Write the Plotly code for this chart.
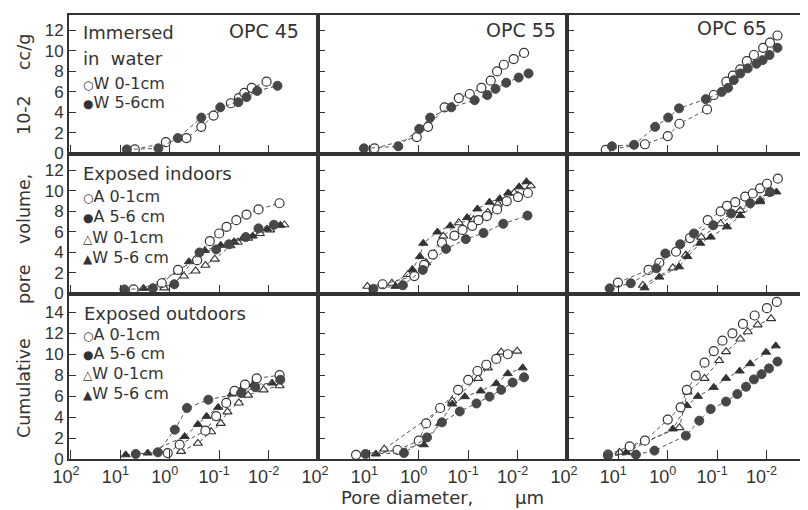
import plotly.graph_objects as go

# ---------------- data (pore diameter in um, cumulative pore volume in 10^-2 cc/g) -------------
# Row 1: immersed in water
opc45_water_w01_d = [5.1, 1.2, 0.46, 0.23, 0.13, 0.058, 0.040, 0.031, 0.022, 0.011]
opc45_water_w01_v = [0.4, 1.1, 1.5, 2.6, 3.7, 4.9, 5.4, 5.9, 6.4, 7.0]
opc45_water_w56_d = [7.4, 1.7, 0.69, 0.23, 0.095, 0.041, 0.028, 0.017, 0.0066]
opc45_water_w56_v = [0.4, 0.5, 1.5, 3.5, 4.5, 5.0, 5.5, 6.1, 6.6]

opc55_water_w01_d = [7.9, 1.1, 0.65, 0.30, 0.155, 0.093, 0.054, 0.035, 0.026, 0.019, 0.012, 0.0074]
opc55_water_w01_v = [0.5, 1.6, 2.6, 4.5, 5.4, 5.8, 6.4, 7.1, 8.0, 8.65, 9.2, 9.8]
opc55_water_w56_d = [12.9, 2.6, 0.98, 0.59, 0.22, 0.074, 0.041, 0.028, 0.017, 0.0095, 0.006]
opc55_water_w56_v = [0.5, 0.7, 2.4, 3.5, 4.5, 5.2, 5.7, 6.3, 6.9, 7.4, 7.8]

opc65_water_w01_d = [18, 2.9, 1.0, 0.58, 0.16, 0.117, 0.065, 0.048, 0.034, 0.025, 0.018, 0.0117, 0.0085, 0.006]
opc65_water_w01_v = [0.36, 0.9, 1.7, 2.9, 4.3, 5.7, 7.0, 7.6, 8.2, 9.0, 9.6, 10.3, 10.8, 11.5]
opc65_water_w56_d = [13.5, 4.8, 1.8, 0.98, 0.59, 0.17, 0.081, 0.06, 0.046, 0.034, 0.024, 0.016, 0.012, 0.0087, 0.006]
opc65_water_w56_v = [0.7, 0.85, 2.6, 3.5, 4.4, 5.3, 6.0, 6.4, 7.15, 7.8, 8.3, 8.75, 9.1, 9.6, 10.3]

# Row 2: exposed indoors
opc45_in_a01_d = [5.4, 1.45, 0.68, 0.28, 0.155, 0.1, 0.071, 0.045, 0.028, 0.016, 0.006]
opc45_in_a01_v = [0.4, 1.0, 2.3, 3.25, 5.1, 5.85, 6.5, 7.15, 7.7, 8.2, 8.8]
opc45_in_a56_d = [8.3, 2.2, 0.81, 0.25, 0.115, 0.063, 0.029, 0.016, 0.0078]
opc45_in_a56_v = [0.4, 0.5, 0.9, 4.0, 4.3, 4.8, 5.5, 6.35, 6.7]
opc45_in_w01_d = [1.3, 0.52, 0.30, 0.19, 0.123, 0.059, 0.042, 0.026, 0.015, 0.0093, 0.0048]
opc45_in_w01_v = [0.55, 1.7, 2.2, 2.75, 3.35, 4.65, 5.0, 5.4, 5.85, 6.2, 6.7]
opc45_in_w56_d = [3.4, 0.69, 0.41, 0.195, 0.093, 0.05, 0.033, 0.021, 0.0107, 0.0058]
opc45_in_w56_v = [0.5, 2.1, 3.1, 4.2, 4.7, 5.05, 5.4, 5.6, 6.3, 6.65]

opc55_in_a01_d = [5.4, 1.23, 0.78, 0.52, 0.34, 0.19, 0.13, 0.083, 0.062, 0.042, 0.026, 0.0166, 0.0098, 0.0062]
opc55_in_a01_v = [0.9, 1.7, 2.8, 3.8, 4.95, 5.65, 6.2, 6.6, 7.15, 7.55, 8.2, 9.0, 9.4, 9.8]
opc55_in_a56_d = [8.3, 2.1, 0.83, 0.28, 0.112, 0.049, 0.0195, 0.0063]
opc55_in_a56_v = [0.45, 0.8, 2.3, 4.35, 5.3, 5.9, 6.8, 7.6]
opc55_in_w01_d = [11, 3.5, 1.66, 0.71, 0.32, 0.155, 0.078, 0.04, 0.025, 0.0117, 0.0054]
opc55_in_w01_v = [0.7, 1.0, 1.85, 3.0, 5.6, 6.9, 7.2, 7.9, 8.7, 9.8, 10.5]
opc55_in_w56_d = [2.95, 1.35, 0.95, 0.81, 0.42, 0.23, 0.105, 0.065, 0.037, 0.023, 0.0155, 0.0093, 0.0066]
opc55_in_w56_v = [0.7, 2.35, 3.6, 4.9, 6.0, 6.6, 7.4, 8.25, 8.9, 9.25, 9.8, 10.4, 10.9]

opc65_in_a01_d = [10.2, 2.45, 1.48, 0.68, 0.355, 0.155, 0.085, 0.063, 0.043, 0.027, 0.019, 0.0135, 0.0098, 0.0059]
opc65_in_a01_v = [1.07, 2.3, 3.0, 4.07, 5.4, 7.15, 8.0, 8.55, 8.9, 9.45, 9.75, 10.25, 10.7, 11.2]
opc65_in_a56_d = [15, 5.6, 1.7, 1.12, 0.56, 0.295, 0.12, 0.052, 0.0214, 0.0085]
opc65_in_a56_v = [0.5, 1.0, 2.45, 3.9, 4.8, 5.85, 6.65, 7.8, 8.8, 9.9]
opc65_in_w01_d = [3.2, 0.79, 0.43, 0.21, 0.085, 0.034, 0.0135, 0.0089]
opc65_in_w01_v = [0.8, 2.5, 3.75, 5.5, 6.8, 8.1, 9.1, 9.75]
opc65_in_w56_d = [2.95, 1.48, 0.59, 0.4, 0.22, 0.135, 0.063, 0.034, 0.0135, 0.0063]
opc65_in_w56_v = [0.55, 1.6, 2.6, 3.6, 4.9, 5.5, 6.5, 7.6, 8.95, 9.9]

# Row 3: exposed outdoors
opc45_out_a01_d = [1.1, 0.63, 0.19, 0.115, 0.072, 0.049, 0.03, 0.0174, 0.006]
opc45_out_a01_v = [0.57, 1.37, 2.7, 4.1, 5.35, 6.5, 7.1, 7.7, 8.0]
opc45_out_a56_d = [4.9, 1.74, 0.79, 0.45, 0.166, 0.036, 0.0186, 0.0058]
opc45_out_a56_v = [0.48, 0.64, 2.8, 4.87, 5.66, 6.3, 6.85, 7.57]
opc45_out_w01_d = [0.59, 0.27, 0.145, 0.093, 0.068, 0.04, 0.026, 0.0126, 0.006]
opc45_out_w01_v = [0.73, 1.5, 2.6, 3.4, 4.5, 5.35, 6.1, 6.6, 7.0]
opc45_out_w56_d = [7.8, 2.8, 0.5, 0.27, 0.18, 0.105, 0.056, 0.035, 0.0204, 0.0085]
opc45_out_w56_v = [0.4, 0.57, 2.15, 3.3, 4.07, 4.93, 6.2, 6.7, 7.1, 7.25]

opc55_out_a01_d = [18.6, 2.7, 1.0, 0.71, 0.37, 0.16, 0.1, 0.065, 0.043, 0.027, 0.0158]
opc55_out_a01_v = [0.4, 0.86, 1.75, 3.4, 4.87, 6.6, 7.55, 8.4, 9.0, 9.55, 10.0]
opc55_out_a56_d = [12, 2.0, 0.68, 0.34, 0.148, 0.068, 0.037, 0.0214, 0.0126, 0.0074]
opc55_out_a56_v = [0.48, 0.57, 2.06, 3.5, 4.54, 5.3, 5.95, 6.6, 7.3, 7.8]
opc55_out_w01_d = [5.0, 0.21, 0.063, 0.04, 0.0214, 0.0102]
opc55_out_w01_v = [0.95, 5.55, 7.7, 8.7, 10.2, 10.3]
opc55_out_w56_d = [7.4, 0.79, 0.37, 0.21, 0.117, 0.056, 0.027, 0.0158, 0.0079]
opc55_out_w56_v = [0.48, 1.36, 3.4, 5.25, 5.95, 6.5, 7.2, 8.15, 8.7]

opc65_out_a01_d = [16.2, 5.9, 2.9, 1.0, 0.55, 0.41, 0.27, 0.18, 0.117, 0.078, 0.049, 0.03, 0.0174, 0.0098, 0.0062]
opc65_out_a01_v = [0.42, 1.2, 1.75, 3.76, 4.93, 6.6, 7.96, 9.2, 10.3, 11.3, 12.0, 12.9, 13.7, 14.4, 15.0]
opc65_out_a56_d = [16.2, 4.4, 1.86, 0.43, 0.23, 0.135, 0.066, 0.039, 0.026, 0.018, 0.0126, 0.0089, 0.006]
opc65_out_a56_v = [0.32, 0.42, 0.8, 2.23, 3.66, 4.77, 5.48, 6.2, 6.9, 7.6, 8.1, 8.65, 9.3]
opc65_out_w01_d = [9.5, 0.58, 0.4, 0.18, 0.091, 0.066, 0.034, 0.024, 0.0151, 0.0081]
opc65_out_w01_v = [0.64, 3.0, 6.4, 7.7, 9.4, 10.25, 11.45, 12.15, 12.8, 13.4]
opc65_out_w56_d = [6.9, 0.79, 0.41, 0.245, 0.117, 0.066, 0.035, 0.0214, 0.0102, 0.0065]
opc65_out_w56_v = [0.64, 2.87, 5.1, 5.98, 6.84, 7.7, 8.4, 9.1, 10.2, 10.8]

panel_titles = ["OPC 45", "OPC 55", "OPC 65"]
row_headers = [["Immersed", "in  water"], ["Exposed indoors"], ["Exposed outdoors"]]
legend_row1 = [("○", "W 0-1cm"), ("●", "W 5-6cm")]
legend_rows23 = [("○", "A 0-1cm"), ("●", "A 5-6 cm"), ("△", "W 0-1cm"), ("▲", "W 5-6 cm")]
x_tickvals = [100, 10, 1, 0.1, 0.01]
x_ticktext = ["10<sup>2</sup>", "10<sup>1</sup>", "10<sup>0</sup>", "10<sup>-1</sup>", "10<sup>-2</sup>"]
y_max = [13.5, 13.65, 15.8]
y_title_parts = ["Cumulative", "pore", "volume,", "10-2", "cc/g"]
x_title_parts = ["Pore diameter,", "μm"]

# ---------------- styles ----------------
OPEN_C = dict(symbol="circle", size=9, color="white", line=dict(color="#333", width=1.2))
FILL_C = dict(symbol="circle", size=9, color="#474747", line=dict(color="#474747", width=1))
OPEN_T = dict(symbol="triangle-up", size=8, color="white", line=dict(color="#333", width=1.1))
FILL_T = dict(symbol="triangle-up", size=8, color="#333", line=dict(color="#333", width=1))

panels = {
    (0, 0): [(opc45_water_w01_d, opc45_water_w01_v, OPEN_C), (opc45_water_w56_d, opc45_water_w56_v, FILL_C)],
    (0, 1): [(opc55_water_w01_d, opc55_water_w01_v, OPEN_C), (opc55_water_w56_d, opc55_water_w56_v, FILL_C)],
    (0, 2): [(opc65_water_w01_d, opc65_water_w01_v, OPEN_C), (opc65_water_w56_d, opc65_water_w56_v, FILL_C)],
    (1, 0): [(opc45_in_w01_d, opc45_in_w01_v, OPEN_T), (opc45_in_w56_d, opc45_in_w56_v, FILL_T),
             (opc45_in_a01_d, opc45_in_a01_v, OPEN_C), (opc45_in_a56_d, opc45_in_a56_v, FILL_C)],
    (1, 1): [(opc55_in_w01_d, opc55_in_w01_v, OPEN_T), (opc55_in_w56_d, opc55_in_w56_v, FILL_T),
             (opc55_in_a01_d, opc55_in_a01_v, OPEN_C), (opc55_in_a56_d, opc55_in_a56_v, FILL_C)],
    (1, 2): [(opc65_in_w01_d, opc65_in_w01_v, OPEN_T), (opc65_in_w56_d, opc65_in_w56_v, FILL_T),
             (opc65_in_a01_d, opc65_in_a01_v, OPEN_C), (opc65_in_a56_d, opc65_in_a56_v, FILL_C)],
    (2, 0): [(opc45_out_w01_d, opc45_out_w01_v, OPEN_T), (opc45_out_w56_d, opc45_out_w56_v, FILL_T),
             (opc45_out_a01_d, opc45_out_a01_v, OPEN_C), (opc45_out_a56_d, opc45_out_a56_v, FILL_C)],
    (2, 1): [(opc55_out_w01_d, opc55_out_w01_v, OPEN_T), (opc55_out_w56_d, opc55_out_w56_v, FILL_T),
             (opc55_out_a01_d, opc55_out_a01_v, OPEN_C), (opc55_out_a56_d, opc55_out_a56_v, FILL_C)],
    (2, 2): [(opc65_out_w01_d, opc65_out_w01_v, OPEN_T), (opc65_out_w56_d, opc65_out_w56_v, FILL_T),
             (opc65_out_a01_d, opc65_out_a01_v, OPEN_C), (opc65_out_a56_d, opc65_out_a56_v, FILL_C)],
}

# ---------------- geometry ----------------
# The page body has an 8px default margin, so the figure is made 8px smaller and
# all reference-pixel positions are shifted by OFF.
OFF = 8
W, H = 808 - OFF, 510 - OFF
col_px = [69, 318, 567, 808]          # reference pixel positions
row_px = [15, 153.5, 293.5, 459]
ML = col_px[0] - OFF
MT = row_px[0] - OFF
MR = 0
MB = H - (row_px[3] - OFF)
PW, PH = W - ML - MR, H - MT - MB
x_ranges = [[2.04, -3.0], [2.04, -3.0], [2.04, -2.84]]

def px2x(x):
    return (x - OFF - ML) / PW

def px2y(y):
    return (H - MB - (y - OFF)) / PH

FONT = "DejaVu Sans"
INK = "#333333"

fig = go.Figure()
layout = dict(width=W, height=H, margin=dict(l=ML, r=MR, t=MT, b=MB, pad=0),
              paper_bgcolor="white", plot_bgcolor="white", showlegend=False,
              font=dict(family=FONT, color=INK))

for r in range(3):
    for c in range(3):
        k = r * 3 + c + 1
        sx = "" if k == 1 else str(k)
        xd = [px2x(col_px[c]), min(1.0, px2x(col_px[c + 1]))]
        yd = [px2y(row_px[r + 1]), px2y(row_px[r])]
        layout["xaxis" + sx] = dict(
            type="log", range=x_ranges[c], domain=xd, anchor="y" + sx,
            showline=True, linewidth=2, linecolor=INK, mirror=True,
            ticks="inside", ticklen=9, tickwidth=1.2, tickcolor=INK,
            tickvals=x_tickvals, ticktext=x_ticktext, showticklabels=(r == 2),
            ticklabelshift=5,
            tickfont=dict(family="Liberation Sans Narrow, Liberation Sans", size=18, color=INK),
            showgrid=False, zeroline=False)
        layout["yaxis" + sx] = dict(
            range=[0, y_max[r]], domain=yd, anchor="x" + sx,
            showline=True, linewidth=2, linecolor=INK, mirror=(c < 2),
            ticks="inside", ticklen=7, tickwidth=1.2, tickcolor=INK,
            tick0=0, dtick=2, showticklabels=(c == 0),
            tickfont=dict(family="Liberation Sans", size=17, color=INK),
            showgrid=False, zeroline=False)
        for d, v, mk in panels[(r, c)]:
            fig.add_trace(go.Scatter(
                x=d, y=v, xaxis="x" + sx, yaxis="y" + sx, mode="lines+markers",
                line=dict(color="#555", width=1, dash="4px,3px"),
                marker=mk))

ann = []
def text(s, x, y, size, xanchor="left", angle=0, family=FONT):
    ann.append(dict(text=s, x=px2x(x), y=px2y(y), xref="paper", yref="paper",
                    xanchor=xanchor, yanchor="middle", showarrow=False, textangle=angle,
                    font=dict(family=family, size=size, color=INK)))

def legend_entry(sym, label, y):
    text("<span style='font-size:12px'>%s</span>%s" % (sym, label), 81, y, 16)

# panel titles
for t, xr, yy in zip(panel_titles, [301, 558, 769], [31, 30, 28]):
    text(t, xr, yy, 19, xanchor="right")
# row headers
text(row_headers[0][0], 81, 32, 18)
text(row_headers[0][1], 81, 58, 18)
text(row_headers[1][0], 81, 173, 18)
text(row_headers[2][0], 82, 313, 18)
# legends
for (sym, lab), yy in zip(legend_row1, [83, 103]):
    legend_entry(sym, lab, yy)
for (sym, lab), yy in zip(legend_rows23, [196, 216, 237, 257]):
    legend_entry(sym, lab, yy)
for (sym, lab), yy in zip(legend_rows23, [334, 353, 373, 393]):
    legend_entry(sym, lab, yy)
# axis titles
for s, yy in zip(y_title_parts, [388, 285, 209, 115, 52]):
    text(s, 24, yy, 17.5, xanchor="center", angle=-90)
text(x_title_parts[0], 407, 497, 18, xanchor="center")
text(x_title_parts[1], 529, 497, 18, xanchor="center")

layout["annotations"] = ann
fig.update_layout(**layout)
fig.write_html("out.html")
